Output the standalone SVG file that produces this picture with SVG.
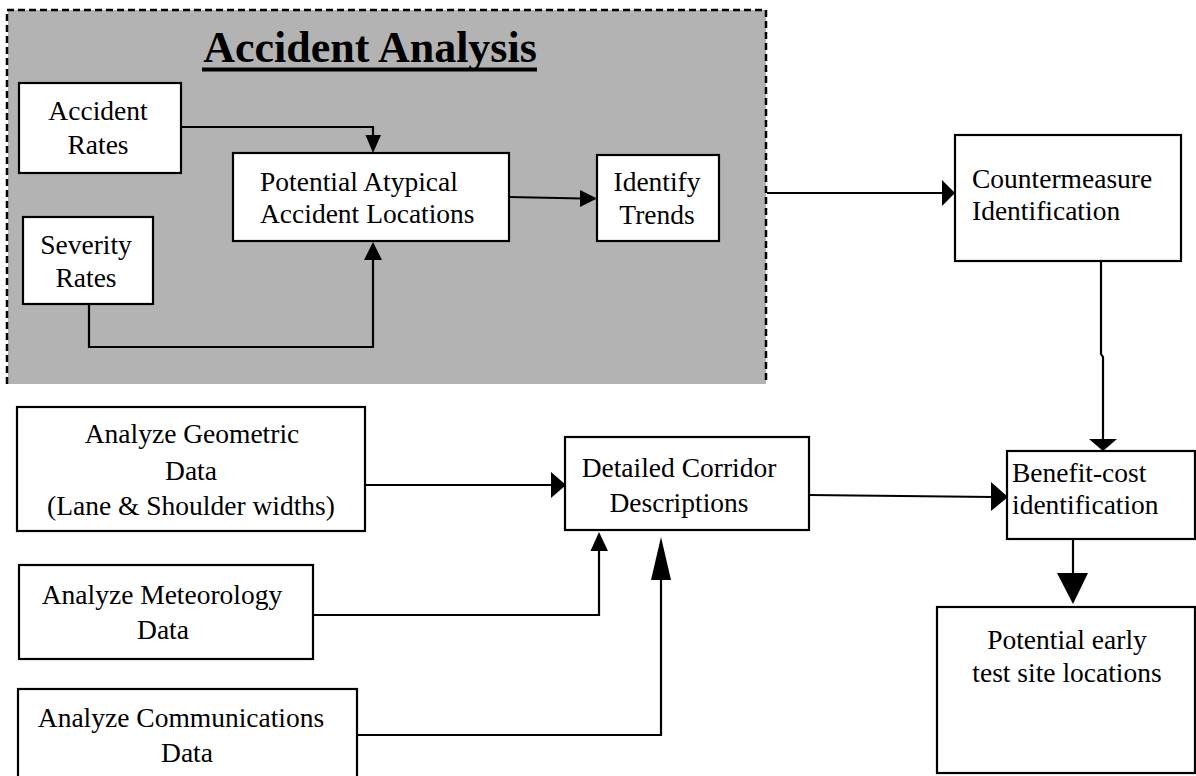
<svg xmlns="http://www.w3.org/2000/svg" width="1196" height="776" viewBox="0 0 1196 776">
<style>
.box{fill:#fff;stroke:#000;stroke-width:2.2}
.t{font-family:"Liberation Serif","Times New Roman",serif;font-size:27.5px;fill:#000}
.c{text-anchor:middle}
.ln{fill:none;stroke:#000;stroke-width:2.2}
.hd{fill:#000;stroke:none}
</style>
<rect width="1196" height="776" fill="#fff"/>
<g id="accident-analysis-group">
<rect x="8" y="10" width="758" height="374" fill="#b3b3b3"/>
<path d="M7,384 V10 H766 V384" fill="none" stroke="#000" stroke-width="2.5" stroke-dasharray="7,4"/>
<text x="370" y="62" class="t c" style="font-size:44px;font-weight:bold">Accident Analysis</text>
<rect x="202" y="67.5" width="335" height="4" fill="#000"/>
</g>
<g id="connectors">
<path class="ln" d="M181,127 H373 V137"/><polygon class="hd" points="365.5,135 381,135 373,153"/>
<path class="ln" d="M89,304 V347 H373 V258"/><polygon class="hd" points="364,260 382,260 373,242"/>
<path class="ln" d="M509,197 L582,198.5"/><polygon class="hd" points="580,190 580,207 597,198.5"/>
<path class="ln" d="M767,193 H944"/><polygon class="hd" points="942,180 942,206 955,193"/>
<path class="ln" d="M1101,261 V354 L1103,357 V441"/><polygon class="hd" points="1089,439 1117,439 1103,451"/>
<path class="ln" d="M365,485 H553"/><polygon class="hd" points="551,472 551,498 566,485"/>
<path class="ln" d="M313,615 H599 V549"/><polygon class="hd" points="590.5,551 608,551 599,532"/>
<path class="ln" d="M357,735 H661 V578"/><polygon class="hd" points="651,580 671,580 661,537"/>
<path class="ln" d="M809,495 L993,497"/><polygon class="hd" points="991,482 991,511 1008,497"/>
<path class="ln" d="M1073,539 V575"/><polygon class="hd" points="1057,573 1088,573 1073,604"/>
</g>
<g id="accident-rates">
<rect class="box" x="19" y="83" width="162" height="90"/>
<text class="t c" x="98" y="120">Accident</text>
<text class="t c" x="98" y="154">Rates</text>
</g>
<g id="severity-rates">
<rect class="box" x="23" y="217" width="130" height="87"/>
<text class="t c" x="86" y="254">Severity</text>
<text class="t c" x="86" y="287">Rates</text>
</g>
<g id="potential-atypical">
<rect class="box" x="233" y="153" width="276" height="88"/>
<text class="t" x="260" y="191">Potential Atypical</text>
<text class="t" x="260" y="223">Accident Locations</text>
</g>
<g id="identify-trends">
<rect class="box" x="597" y="155" width="122" height="86"/>
<text class="t c" x="657" y="191">Identify</text>
<text class="t c" x="657" y="224">Trends</text>
</g>
<g id="countermeasure">
<rect class="box" x="955" y="135" width="226" height="126"/>
<text class="t" x="972" y="188">Countermeasure</text>
<text class="t" x="972" y="220">Identification</text>
</g>
<g id="benefit-cost">
<rect class="box" x="1007" y="451" width="188" height="88"/>
<text class="t" x="1012" y="482">Benefit-cost</text>
<text class="t" x="1012" y="514">identification</text>
</g>
<g id="early-test-sites">
<rect class="box" x="937" y="607" width="258" height="166"/>
<text class="t c" x="1067" y="649">Potential early</text>
<text class="t c" x="1067" y="682">test site locations</text>
</g>
<g id="geometric">
<rect class="box" x="17" y="407" width="348" height="124"/>
<text class="t c" x="192" y="443">Analyze Geometric</text>
<text class="t c" x="191" y="480">Data</text>
<text class="t c" x="191" y="515">(Lane &amp; Shoulder widths)</text>
</g>
<g id="meteorology">
<rect class="box" x="19" y="565" width="294" height="94"/>
<text class="t c" x="162" y="604">Analyze Meteorology</text>
<text class="t c" x="163" y="639">Data</text>
</g>
<g id="communications">
<rect class="box" x="18" y="689" width="339" height="100"/>
<text class="t c" x="181" y="727">Analyze Communications</text>
<text class="t c" x="187" y="762">Data</text>
</g>
<g id="corridor">
<rect class="box" x="565" y="437" width="244" height="93"/>
<text class="t c" x="679" y="477">Detailed Corridor</text>
<text class="t c" x="679" y="512">Descriptions</text>
</g>
</svg>
